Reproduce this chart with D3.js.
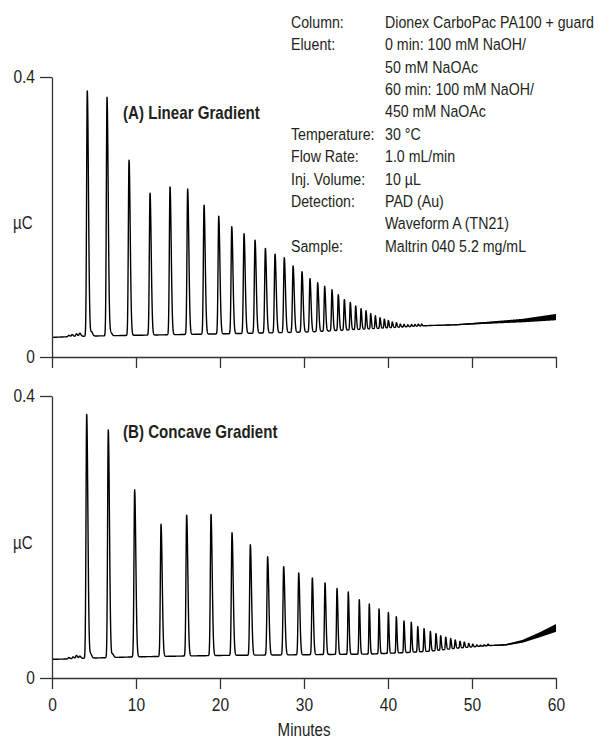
<!DOCTYPE html>
<html><head><meta charset="utf-8">
<script src="https://cdn.jsdelivr.net/npm/d3@7"></script>
<style>
body{margin:0;background:#fff;}
text{font-family:"Liberation Sans",Arial,sans-serif;fill:#231f20;}
</style></head>
<body><svg id="c" width="599" height="740"></svg>
<script>
// ---------- data ----------
const xTicks = [0, 10, 20, 30, 40, 50, 60];
const yTicks = [0, 0.4];
const yTickLabels = ["0", "0.4"];

// Panel A (linear gradient): peak retention times (min) and apex heights (µC)
const peaksA_t = [2.0, 2.4, 2.9, 3.3, 4.2, 4.7, 6.55, 7.0, 9.17, 11.67, 14.05, 16.15, 18.1, 19.85, 21.4, 22.86, 24.17, 25.4, 26.55, 27.65, 28.7, 29.76, 30.71, 31.63, 32.46, 33.33, 34.08, 34.8, 35.51, 36.15, 36.79, 37.38, 37.94, 38.49, 39.05, 39.56, 40.04, 40.51, 41.0, 41.46, 41.9, 42.35, 42.8, 43.2, 43.6, 44.0];
const peaksA_h = [0.031, 0.032, 0.033, 0.034, 0.380, 0.036, 0.371, 0.035, 0.281, 0.234, 0.243, 0.240, 0.217, 0.201, 0.186, 0.176, 0.167, 0.155, 0.147, 0.142, 0.130, 0.122, 0.112, 0.106, 0.101, 0.096, 0.089, 0.082, 0.078, 0.073, 0.069, 0.066, 0.062, 0.059, 0.056, 0.054, 0.052, 0.050, 0.049, 0.047, 0.0465, 0.046, 0.0465, 0.0465, 0.047, 0.047];
const baseA_t = [0, 2, 5, 10, 20, 28, 31, 35, 39, 42, 45, 48, 52, 56, 60];
const baseA_v = [0.028, 0.029, 0.030, 0.031, 0.033, 0.035, 0.036, 0.0385, 0.041, 0.043, 0.045, 0.046, 0.049, 0.052, 0.057];
const noiseA_t = [44, 48, 52, 56, 60];
const noiseA_w = [0, 0.0015, 0.003, 0.005, 0.009];

// Panel B (concave gradient)
const peaksB_t = [2.0, 2.5, 2.9, 3.3, 4.13, 4.6, 6.70, 7.2, 9.84, 12.98, 16.03, 18.93, 21.43, 23.61, 25.67, 27.58, 29.37, 30.99, 32.5, 33.93, 35.27, 36.58, 37.77, 38.93, 40.04, 40.99, 41.9, 42.77, 43.54, 44.29, 45.04, 45.71, 46.27, 46.87, 47.46, 48.0, 48.57, 49.08, 49.6, 50.08, 50.56, 51.0, 51.45, 51.9];
const peaksB_h = [0.029, 0.030, 0.032, 0.031, 0.374, 0.034, 0.352, 0.034, 0.267, 0.218, 0.231, 0.232, 0.206, 0.189, 0.172, 0.158, 0.149, 0.142, 0.135, 0.127, 0.122, 0.111, 0.105, 0.098, 0.093, 0.087, 0.081, 0.079, 0.073, 0.070, 0.066, 0.063, 0.060, 0.058, 0.056, 0.054, 0.052, 0.051, 0.049, 0.048, 0.047, 0.0465, 0.047, 0.048];
const baseB_t = [0, 2, 4, 10, 20, 30, 38, 42, 45, 48, 50, 52, 54, 56, 58, 60];
const baseB_v = [0.0265, 0.027, 0.028, 0.030, 0.032, 0.033, 0.034, 0.036, 0.038, 0.042, 0.044, 0.046, 0.047, 0.052, 0.061, 0.071];
const noiseB_t = [50, 54, 56, 58, 60];
const noiseB_w = [0, 0.002, 0.004, 0.007, 0.011];

const infoLabels = ["Column:", "Eluent:", "", "", "", "Temperature:", "Flow Rate:", "Inj. Volume:", "Detection:", "", "Sample:"];
const infoValues = ["Dionex CarboPac PA100 + guard", "0 min: 100 mM NaOH/", "50 mM NaOAc", "60 min: 100 mM NaOH/", "450 mM NaOAc", "30 °C", "1.0 mL/min", "10 µL", "PAD (Au)", "Waveform A (TN21)", "Maltrin 040 5.2 mg/mL"];

// ---------- drawing ----------
const SX = 0.84; // horizontal condensing of text (condensed typeface look)
const svg = d3.select("#c");
const x = d3.scaleLinear().domain([0, 60]).range([52, 556]);

function label(parent, px, py, str, size, opts = {}) {
  return parent.append("text")
    .attr("transform", `translate(${px},${py}) scale(${opts.sx || SX},1)`)
    .attr("font-size", size)
    .attr("font-weight", opts.bold ? "bold" : null)
    .attr("text-anchor", opts.anchor || "start")
    .text(str);
}

function buildTrace(pt, ph, bt, bv) {
  const base = d3.scaleLinear().domain(bt).range(bv).clamp(true);
  const amps = ph.map((h, i) => h - base(pt[i]));
  const pts = [];
  for (let k = 0; k <= 6000; k++) {
    const t = k / 100;
    let v = base(t);
    for (let i = 0; i < pt.length; i++) {
      const d = t - pt[i];
      if (Math.abs(d) > 1.5) continue;
      const f = pt[i] < 28 ? 1 : Math.max(0.6, 1 - (pt[i] - 28) / 25);
      const s = (d < 0 ? 0.08 : 0.14) * f;
      v += amps[i] * Math.exp(-d * d / (2 * s * s));
    }
    pts.push([t, v]);
  }
  return {pts, base};
}

function panel(y0px, y4px, pt, ph, bt, bv, nt, nw, title, showXLabels) {
  const y = d3.scaleLinear().domain([0, 0.4]).range([y0px, y4px]);
  const g = svg.append("g");
  const {pts, base} = buildTrace(pt, ph, bt, bv);
  const noise = d3.scaleLinear().domain(nt).range(nw).clamp(true);
  const band = pts.filter(p => p[0] >= nt[0]);
  g.append("path")
    .attr("d", d3.area().x(p => x(p[0])).y0(p => y(base(p[0]) - noise(p[0]) / 2)).y1(p => y(base(p[0]) + noise(p[0]) / 2))(band))
    .attr("fill", "#000");
  g.append("path")
    .attr("d", d3.line().x(p => x(p[0])).y(p => y(p[1]))(pts))
    .attr("fill", "none").attr("stroke", "#000").attr("stroke-width", 1.4).attr("stroke-linejoin", "round");

  const ya = g.append("g").attr("transform", "translate(52,0)")
    .call(d3.axisLeft(y).tickValues(yTicks).tickFormat((d, i) => yTickLabels[i]).tickSize(12).tickSizeOuter(0).tickPadding(5));
  const xa = g.append("g").attr("transform", `translate(0,${y0px})`)
    .call(d3.axisBottom(x).tickValues(xTicks).tickFormat(d => showXLabels ? d : "").tickSize(11).tickSizeOuter(0).tickPadding(9));
  [ya, xa].forEach(a => {
    a.selectAll("path,line").attr("stroke", "#333").attr("stroke-width", 1.3);
    a.selectAll("text").attr("font-size", 18.5).attr("font-family", '"Liberation Sans",Arial,sans-serif').attr("fill", "#231f20");
  });
  ya.selectAll("text").attr("x", -17 / SX).attr("transform", `scale(${SX},1)`);
  xa.selectAll("text").attr("transform", `scale(${SX},1)`);
  label(g, 13, (y0px + y4px) / 2 + 12, "µC", 18);
  label(g, 123, y4px + 42, title, 18, {bold: true});
}

panel(357, 77, peaksA_t, peaksA_h, baseA_t, baseA_v, noiseA_t, noiseA_w, "(A) Linear Gradient", false);
panel(678, 396, peaksB_t, peaksB_h, baseB_t, baseB_v, noiseB_t, noiseB_w, "(B) Concave Gradient", true);

label(svg, 304, 736, "Minutes", 18, {anchor: "middle"});

const info = svg.append("g");
infoLabels.forEach((l, i) => {
  if (l) label(info, 291, 28 + 22.36 * i, l, 16.5, {sx: 0.86});
  label(info, 385, 28 + 22.36 * i, infoValues[i], 16.5, {sx: 0.86});
});
</script></body></html>
